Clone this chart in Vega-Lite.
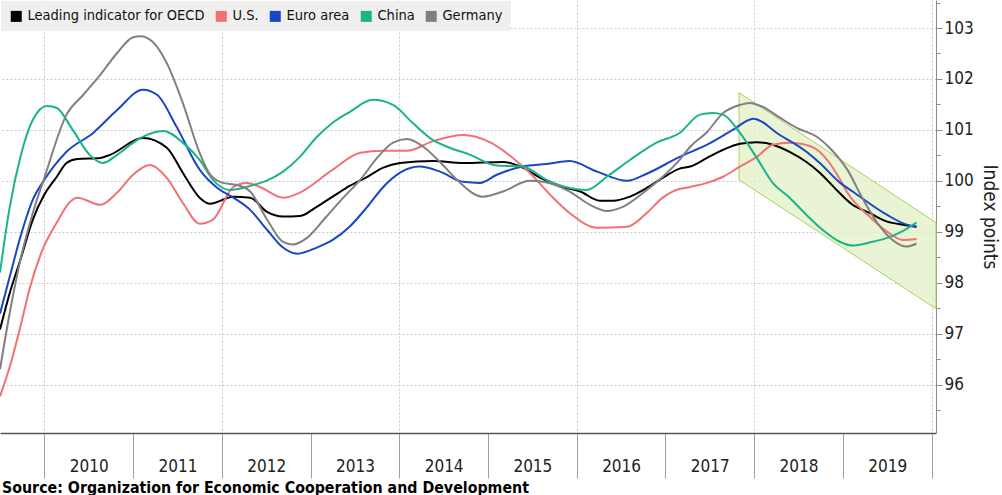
{
  "$schema": "https://vega.github.io/schema/vega-lite/v6.json",
  "width": 936,
  "height": 433,
  "autosize": {"type": "none"},
  "padding": {"left": 0, "top": 0, "right": 66, "bottom": 62},
  "background": "#ffffff",
  "config": {
    "view": {"stroke": null},
    "font": "DejaVu Sans Condensed, Liberation Sans, sans-serif",
    "axis": {"labelFont": "DejaVu Sans Condensed, Liberation Sans, sans-serif", "titleFont": "DejaVu Sans Condensed, Liberation Sans, sans-serif"},
    "legend": {"labelFont": "DejaVu Sans Condensed, Liberation Sans, sans-serif"}
  },
  "title": {
    "text": "Source: Organization for Economic Cooperation and Development",
    "orient": "bottom",
    "anchor": "start",
    "frame": "group",
    "fontSize": 15.8,
    "fontWeight": "bold",
    "font": "DejaVu Sans Condensed, Liberation Sans, sans-serif",
    "color": "#000000",
    "offset": 2,
    "dx": 2
  },
  "datasets": {
    "band": [
      {"t": 2017.83, "hi": 101.73, "lo": 100.02},
      {"t": 2020.05, "hi": 99.18, "lo": 97.49}
    ],
    "series": [
      {"s": "Leading indicator for OECD", "t": 2009.50, "v": 97.08},
      {"s": "Leading indicator for OECD", "t": 2009.61, "v": 97.80},
      {"s": "Leading indicator for OECD", "t": 2009.73, "v": 98.45},
      {"s": "Leading indicator for OECD", "t": 2009.87, "v": 99.24},
      {"s": "Leading indicator for OECD", "t": 2010.00, "v": 99.73},
      {"s": "Leading indicator for OECD", "t": 2010.14, "v": 100.08},
      {"s": "Leading indicator for OECD", "t": 2010.25, "v": 100.35},
      {"s": "Leading indicator for OECD", "t": 2010.37, "v": 100.43},
      {"s": "Leading indicator for OECD", "t": 2010.63, "v": 100.45},
      {"s": "Leading indicator for OECD", "t": 2010.74, "v": 100.51},
      {"s": "Leading indicator for OECD", "t": 2011.11, "v": 100.84},
      {"s": "Leading indicator for OECD", "t": 2011.38, "v": 100.65},
      {"s": "Leading indicator for OECD", "t": 2011.56, "v": 100.16},
      {"s": "Leading indicator for OECD", "t": 2011.75, "v": 99.67},
      {"s": "Leading indicator for OECD", "t": 2011.87, "v": 99.55},
      {"s": "Leading indicator for OECD", "t": 2012.13, "v": 99.69},
      {"s": "Leading indicator for OECD", "t": 2012.32, "v": 99.67},
      {"s": "Leading indicator for OECD", "t": 2012.51, "v": 99.39},
      {"s": "Leading indicator for OECD", "t": 2012.69, "v": 99.30},
      {"s": "Leading indicator for OECD", "t": 2012.88, "v": 99.31},
      {"s": "Leading indicator for OECD", "t": 2013.07, "v": 99.49},
      {"s": "Leading indicator for OECD", "t": 2013.25, "v": 99.69},
      {"s": "Leading indicator for OECD", "t": 2013.44, "v": 99.90},
      {"s": "Leading indicator for OECD", "t": 2013.64, "v": 100.08},
      {"s": "Leading indicator for OECD", "t": 2013.82, "v": 100.26},
      {"s": "Leading indicator for OECD", "t": 2014.01, "v": 100.35},
      {"s": "Leading indicator for OECD", "t": 2014.38, "v": 100.39},
      {"s": "Leading indicator for OECD", "t": 2014.72, "v": 100.35},
      {"s": "Leading indicator for OECD", "t": 2015.17, "v": 100.37},
      {"s": "Leading indicator for OECD", "t": 2015.39, "v": 100.26},
      {"s": "Leading indicator for OECD", "t": 2015.59, "v": 100.06},
      {"s": "Leading indicator for OECD", "t": 2015.84, "v": 99.88},
      {"s": "Leading indicator for OECD", "t": 2016.04, "v": 99.79},
      {"s": "Leading indicator for OECD", "t": 2016.26, "v": 99.61},
      {"s": "Leading indicator for OECD", "t": 2016.41, "v": 99.61},
      {"s": "Leading indicator for OECD", "t": 2016.60, "v": 99.69},
      {"s": "Leading indicator for OECD", "t": 2016.79, "v": 99.86},
      {"s": "Leading indicator for OECD", "t": 2016.97, "v": 100.06},
      {"s": "Leading indicator for OECD", "t": 2017.16, "v": 100.24},
      {"s": "Leading indicator for OECD", "t": 2017.28, "v": 100.28},
      {"s": "Leading indicator for OECD", "t": 2017.47, "v": 100.45},
      {"s": "Leading indicator for OECD", "t": 2017.65, "v": 100.61},
      {"s": "Leading indicator for OECD", "t": 2017.84, "v": 100.73},
      {"s": "Leading indicator for OECD", "t": 2018.03, "v": 100.76},
      {"s": "Leading indicator for OECD", "t": 2018.21, "v": 100.71},
      {"s": "Leading indicator for OECD", "t": 2018.40, "v": 100.57},
      {"s": "Leading indicator for OECD", "t": 2018.59, "v": 100.37},
      {"s": "Leading indicator for OECD", "t": 2018.74, "v": 100.16},
      {"s": "Leading indicator for OECD", "t": 2018.93, "v": 99.82},
      {"s": "Leading indicator for OECD", "t": 2019.11, "v": 99.53},
      {"s": "Leading indicator for OECD", "t": 2019.30, "v": 99.37},
      {"s": "Leading indicator for OECD", "t": 2019.50, "v": 99.20},
      {"s": "Leading indicator for OECD", "t": 2019.68, "v": 99.14},
      {"s": "Leading indicator for OECD", "t": 2019.83, "v": 99.10},

      {"s": "U.S.", "t": 2009.50, "v": 95.77},
      {"s": "U.S.", "t": 2009.61, "v": 96.35},
      {"s": "U.S.", "t": 2009.73, "v": 97.14},
      {"s": "U.S.", "t": 2009.84, "v": 97.92},
      {"s": "U.S.", "t": 2009.98, "v": 98.65},
      {"s": "U.S.", "t": 2010.14, "v": 99.18},
      {"s": "U.S.", "t": 2010.29, "v": 99.59},
      {"s": "U.S.", "t": 2010.37, "v": 99.67},
      {"s": "U.S.", "t": 2010.63, "v": 99.53},
      {"s": "U.S.", "t": 2010.82, "v": 99.77},
      {"s": "U.S.", "t": 2011.00, "v": 100.12},
      {"s": "U.S.", "t": 2011.19, "v": 100.31},
      {"s": "U.S.", "t": 2011.38, "v": 100.06},
      {"s": "U.S.", "t": 2011.56, "v": 99.57},
      {"s": "U.S.", "t": 2011.75, "v": 99.16},
      {"s": "U.S.", "t": 2011.90, "v": 99.24},
      {"s": "U.S.", "t": 2012.13, "v": 99.88},
      {"s": "U.S.", "t": 2012.28, "v": 99.96},
      {"s": "U.S.", "t": 2012.43, "v": 99.88},
      {"s": "U.S.", "t": 2012.69, "v": 99.67},
      {"s": "U.S.", "t": 2012.88, "v": 99.77},
      {"s": "U.S.", "t": 2013.25, "v": 100.22},
      {"s": "U.S.", "t": 2013.56, "v": 100.55},
      {"s": "U.S.", "t": 2013.82, "v": 100.59},
      {"s": "U.S.", "t": 2014.09, "v": 100.59},
      {"s": "U.S.", "t": 2014.38, "v": 100.78},
      {"s": "U.S.", "t": 2014.72, "v": 100.90},
      {"s": "U.S.", "t": 2015.02, "v": 100.76},
      {"s": "U.S.", "t": 2015.28, "v": 100.45},
      {"s": "U.S.", "t": 2015.47, "v": 100.16},
      {"s": "U.S.", "t": 2015.70, "v": 99.73},
      {"s": "U.S.", "t": 2015.92, "v": 99.37},
      {"s": "U.S.", "t": 2016.23, "v": 99.08},
      {"s": "U.S.", "t": 2016.57, "v": 99.10},
      {"s": "U.S.", "t": 2016.79, "v": 99.37},
      {"s": "U.S.", "t": 2016.97, "v": 99.67},
      {"s": "U.S.", "t": 2017.08, "v": 99.79},
      {"s": "U.S.", "t": 2017.28, "v": 99.88},
      {"s": "U.S.", "t": 2017.47, "v": 99.96},
      {"s": "U.S.", "t": 2017.65, "v": 100.08},
      {"s": "U.S.", "t": 2017.84, "v": 100.28},
      {"s": "U.S.", "t": 2018.03, "v": 100.47},
      {"s": "U.S.", "t": 2018.21, "v": 100.71},
      {"s": "U.S.", "t": 2018.40, "v": 100.75},
      {"s": "U.S.", "t": 2018.52, "v": 100.73},
      {"s": "U.S.", "t": 2018.71, "v": 100.61},
      {"s": "U.S.", "t": 2018.85, "v": 100.35},
      {"s": "U.S.", "t": 2018.97, "v": 100.02},
      {"s": "U.S.", "t": 2019.05, "v": 99.77},
      {"s": "U.S.", "t": 2019.30, "v": 99.30},
      {"s": "U.S.", "t": 2019.50, "v": 99.00},
      {"s": "U.S.", "t": 2019.68, "v": 98.84},
      {"s": "U.S.", "t": 2019.83, "v": 98.86},

      {"s": "Euro area", "t": 2009.50, "v": 97.39},
      {"s": "Euro area", "t": 2009.61, "v": 98.12},
      {"s": "Euro area", "t": 2009.73, "v": 98.90},
      {"s": "Euro area", "t": 2009.87, "v": 99.63},
      {"s": "Euro area", "t": 2010.00, "v": 100.02},
      {"s": "Euro area", "t": 2010.25, "v": 100.57},
      {"s": "Euro area", "t": 2010.55, "v": 100.94},
      {"s": "Euro area", "t": 2010.82, "v": 101.39},
      {"s": "Euro area", "t": 2011.11, "v": 101.79},
      {"s": "Euro area", "t": 2011.27, "v": 101.69},
      {"s": "Euro area", "t": 2011.49, "v": 101.06},
      {"s": "Euro area", "t": 2011.75, "v": 100.22},
      {"s": "Euro area", "t": 2011.95, "v": 99.86},
      {"s": "Euro area", "t": 2012.13, "v": 99.67},
      {"s": "Euro area", "t": 2012.32, "v": 99.43},
      {"s": "Euro area", "t": 2012.51, "v": 99.04},
      {"s": "Euro area", "t": 2012.69, "v": 98.69},
      {"s": "Euro area", "t": 2012.85, "v": 98.57},
      {"s": "Euro area", "t": 2013.07, "v": 98.69},
      {"s": "Euro area", "t": 2013.25, "v": 98.84},
      {"s": "Euro area", "t": 2013.44, "v": 99.10},
      {"s": "Euro area", "t": 2013.64, "v": 99.49},
      {"s": "Euro area", "t": 2013.82, "v": 99.88},
      {"s": "Euro area", "t": 2014.01, "v": 100.16},
      {"s": "Euro area", "t": 2014.23, "v": 100.28},
      {"s": "Euro area", "t": 2014.46, "v": 100.18},
      {"s": "Euro area", "t": 2014.72, "v": 99.98},
      {"s": "Euro area", "t": 2014.91, "v": 99.96},
      {"s": "Euro area", "t": 2015.10, "v": 100.12},
      {"s": "Euro area", "t": 2015.39, "v": 100.28},
      {"s": "Euro area", "t": 2015.66, "v": 100.33},
      {"s": "Euro area", "t": 2015.92, "v": 100.39},
      {"s": "Euro area", "t": 2016.23, "v": 100.18},
      {"s": "Euro area", "t": 2016.57, "v": 100.00},
      {"s": "Euro area", "t": 2016.79, "v": 100.14},
      {"s": "Euro area", "t": 2017.16, "v": 100.47},
      {"s": "Euro area", "t": 2017.47, "v": 100.71},
      {"s": "Euro area", "t": 2017.76, "v": 101.00},
      {"s": "Euro area", "t": 2017.99, "v": 101.22},
      {"s": "Euro area", "t": 2018.29, "v": 100.90},
      {"s": "Euro area", "t": 2018.59, "v": 100.57},
      {"s": "Euro area", "t": 2018.74, "v": 100.35},
      {"s": "Euro area", "t": 2018.97, "v": 99.96},
      {"s": "Euro area", "t": 2019.11, "v": 99.79},
      {"s": "Euro area", "t": 2019.50, "v": 99.33},
      {"s": "Euro area", "t": 2019.72, "v": 99.14},
      {"s": "Euro area", "t": 2019.83, "v": 99.10},

      {"s": "China", "t": 2009.50, "v": 98.20},
      {"s": "China", "t": 2009.61, "v": 99.49},
      {"s": "China", "t": 2009.73, "v": 100.47},
      {"s": "China", "t": 2009.87, "v": 101.20},
      {"s": "China", "t": 2010.03, "v": 101.47},
      {"s": "China", "t": 2010.14, "v": 101.43},
      {"s": "China", "t": 2010.32, "v": 101.00},
      {"s": "China", "t": 2010.51, "v": 100.51},
      {"s": "China", "t": 2010.66, "v": 100.35},
      {"s": "China", "t": 2010.82, "v": 100.51},
      {"s": "China", "t": 2011.08, "v": 100.84},
      {"s": "China", "t": 2011.34, "v": 100.98},
      {"s": "China", "t": 2011.56, "v": 100.75},
      {"s": "China", "t": 2011.75, "v": 100.41},
      {"s": "China", "t": 2011.90, "v": 100.02},
      {"s": "China", "t": 2012.09, "v": 99.82},
      {"s": "China", "t": 2012.32, "v": 99.90},
      {"s": "China", "t": 2012.69, "v": 100.18},
      {"s": "China", "t": 2012.88, "v": 100.47},
      {"s": "China", "t": 2013.07, "v": 100.86},
      {"s": "China", "t": 2013.25, "v": 101.14},
      {"s": "China", "t": 2013.44, "v": 101.35},
      {"s": "China", "t": 2013.70, "v": 101.59},
      {"s": "China", "t": 2013.93, "v": 101.49},
      {"s": "China", "t": 2014.15, "v": 101.14},
      {"s": "China", "t": 2014.38, "v": 100.80},
      {"s": "China", "t": 2014.54, "v": 100.67},
      {"s": "China", "t": 2014.80, "v": 100.51},
      {"s": "China", "t": 2015.10, "v": 100.30},
      {"s": "China", "t": 2015.39, "v": 100.28},
      {"s": "China", "t": 2015.66, "v": 100.02},
      {"s": "China", "t": 2015.92, "v": 99.86},
      {"s": "China", "t": 2016.11, "v": 99.82},
      {"s": "China", "t": 2016.34, "v": 100.08},
      {"s": "China", "t": 2016.60, "v": 100.41},
      {"s": "China", "t": 2016.90, "v": 100.75},
      {"s": "China", "t": 2017.16, "v": 100.94},
      {"s": "China", "t": 2017.39, "v": 101.30},
      {"s": "China", "t": 2017.53, "v": 101.33},
      {"s": "China", "t": 2017.65, "v": 101.30},
      {"s": "China", "t": 2017.84, "v": 100.94},
      {"s": "China", "t": 2018.03, "v": 100.45},
      {"s": "China", "t": 2018.21, "v": 99.96},
      {"s": "China", "t": 2018.40, "v": 99.67},
      {"s": "China", "t": 2018.59, "v": 99.33},
      {"s": "China", "t": 2018.77, "v": 99.04},
      {"s": "China", "t": 2018.97, "v": 98.80},
      {"s": "China", "t": 2019.11, "v": 98.73},
      {"s": "China", "t": 2019.30, "v": 98.79},
      {"s": "China", "t": 2019.50, "v": 98.88},
      {"s": "China", "t": 2019.68, "v": 99.02},
      {"s": "China", "t": 2019.83, "v": 99.18},

      {"s": "Germany", "t": 2009.50, "v": 96.30},
      {"s": "Germany", "t": 2009.61, "v": 97.41},
      {"s": "Germany", "t": 2009.73, "v": 98.45},
      {"s": "Germany", "t": 2009.87, "v": 99.37},
      {"s": "Germany", "t": 2010.00, "v": 100.06},
      {"s": "Germany", "t": 2010.25, "v": 101.30},
      {"s": "Germany", "t": 2010.44, "v": 101.69},
      {"s": "Germany", "t": 2010.63, "v": 102.08},
      {"s": "Germany", "t": 2010.82, "v": 102.51},
      {"s": "Germany", "t": 2011.00, "v": 102.82},
      {"s": "Germany", "t": 2011.08, "v": 102.84},
      {"s": "Germany", "t": 2011.22, "v": 102.73},
      {"s": "Germany", "t": 2011.38, "v": 102.31},
      {"s": "Germany", "t": 2011.56, "v": 101.53},
      {"s": "Germany", "t": 2011.75, "v": 100.55},
      {"s": "Germany", "t": 2011.87, "v": 100.12},
      {"s": "Germany", "t": 2012.01, "v": 99.96},
      {"s": "Germany", "t": 2012.17, "v": 99.92},
      {"s": "Germany", "t": 2012.32, "v": 99.79},
      {"s": "Germany", "t": 2012.51, "v": 99.24},
      {"s": "Germany", "t": 2012.69, "v": 98.80},
      {"s": "Germany", "t": 2012.80, "v": 98.75},
      {"s": "Germany", "t": 2012.96, "v": 98.88},
      {"s": "Germany", "t": 2013.18, "v": 99.30},
      {"s": "Germany", "t": 2013.37, "v": 99.67},
      {"s": "Germany", "t": 2013.56, "v": 100.02},
      {"s": "Germany", "t": 2013.75, "v": 100.45},
      {"s": "Germany", "t": 2013.93, "v": 100.75},
      {"s": "Germany", "t": 2014.09, "v": 100.82},
      {"s": "Germany", "t": 2014.27, "v": 100.67},
      {"s": "Germany", "t": 2014.46, "v": 100.37},
      {"s": "Germany", "t": 2014.65, "v": 100.02},
      {"s": "Germany", "t": 2014.94, "v": 99.69},
      {"s": "Germany", "t": 2015.17, "v": 99.79},
      {"s": "Germany", "t": 2015.47, "v": 100.00},
      {"s": "Germany", "t": 2015.62, "v": 99.98},
      {"s": "Germany", "t": 2015.92, "v": 99.79},
      {"s": "Germany", "t": 2016.15, "v": 99.53},
      {"s": "Germany", "t": 2016.34, "v": 99.41},
      {"s": "Germany", "t": 2016.52, "v": 99.49},
      {"s": "Germany", "t": 2016.79, "v": 99.82},
      {"s": "Germany", "t": 2016.97, "v": 100.08},
      {"s": "Germany", "t": 2017.16, "v": 100.41},
      {"s": "Germany", "t": 2017.28, "v": 100.67},
      {"s": "Germany", "t": 2017.47, "v": 100.96},
      {"s": "Germany", "t": 2017.65, "v": 101.33},
      {"s": "Germany", "t": 2017.84, "v": 101.49},
      {"s": "Germany", "t": 2017.95, "v": 101.53},
      {"s": "Germany", "t": 2018.10, "v": 101.45},
      {"s": "Germany", "t": 2018.29, "v": 101.24},
      {"s": "Germany", "t": 2018.48, "v": 101.04},
      {"s": "Germany", "t": 2018.71, "v": 100.86},
      {"s": "Germany", "t": 2018.85, "v": 100.65},
      {"s": "Germany", "t": 2019.05, "v": 100.22},
      {"s": "Germany", "t": 2019.23, "v": 99.63},
      {"s": "Germany", "t": 2019.42, "v": 99.10},
      {"s": "Germany", "t": 2019.56, "v": 98.84},
      {"s": "Germany", "t": 2019.72, "v": 98.71},
      {"s": "Germany", "t": 2019.83, "v": 98.77}
    ]
  },
  "resolve": {"axis": {"y": "independent", "x": "independent"}},
  "layer": [
    {
      "data": {"name": "band"},
      "mark": {"type": "area", "fill": "#e2f1c8", "fillOpacity": 0.8, "stroke": "#a9d25c", "strokeWidth": 1},
      "encoding": {
        "x": {"field": "t", "type": "quantitative",
          "scale": {"domain": [2009.5, 2020.05], "nice": false, "zero": false},
          "axis": {"orient": "bottom", "values": [2010, 2011, 2012, 2013, 2014, 2015, 2016, 2017, 2018, 2019, 2020],
            "labels": false, "ticks": false, "domain": false, "title": null,
            "grid": true, "gridDash": [2, 2], "gridColor": "#c8c8c8",
            "gridOpacity": {"condition": {"test": "datum.value % 2 === 0", "value": 1}, "value": 0}}},
        "y": {"field": "hi", "type": "quantitative",
          "scale": {"domain": [95.05, 103.55], "nice": false, "zero": false},
          "axis": {"orient": "right", "values": [95.5, 96.5, 97.5, 98.5, 99.5, 100.5, 101.5, 102.5, 103.5],
            "labels": false, "grid": false, "domain": false, "title": null,
            "tickSize": 4, "tickColor": "#8c8c8c"}},
        "y2": {"field": "lo"}
      }
    },
    {
      "data": {"name": "series"},
      "mark": {"type": "line", "interpolate": "monotone", "strokeWidth": 2},
      "encoding": {
        "x": {"field": "t", "type": "quantitative",
          "axis": {"orient": "bottom", "values": [2010, 2011, 2012, 2013, 2014, 2015, 2016, 2017, 2018, 2019, 2020],
            "format": "d", "labelExpr": "datum.value < 2020 ? datum.label : ''",
            "labelOffset": 44.4, "labelPadding": -20, "labelFontSize": 17, "labelColor": "#222222",
            "labelFlush": false, "labelOverlap": false,
            "tickSize": 45, "tickColor": "#a0a0a0", "domainColor": "#555555", "domainWidth": 1.5,
            "grid": false, "title": null}},
        "y": {"field": "v", "type": "quantitative",
          "axis": {"orient": "right", "values": [96, 97, 98, 99, 100, 101, 102, 103],
            "format": "d", "labelFontSize": 17, "labelColor": "#222222", "labelPadding": 2,
            "tickSize": 6, "tickColor": "#8c8c8c", "domainColor": "#8c8c8c",
            "grid": true, "gridDash": [2, 2], "gridColor": "#c8c8c8",
            "title": "Index points", "titleFontSize": 19, "titleFontWeight": "normal", "titleColor": "#222222", "titlePadding": 6}},
        "color": {"field": "s", "type": "nominal",
          "scale": {"domain": ["Leading indicator for OECD", "U.S.", "Euro area", "China", "Germany"],
            "range": ["#000000", "#f07272", "#1a47c2", "#1bb38b", "#808080"]},
          "legend": {"orient": "top-left", "direction": "horizontal", "title": null,
            "fillColor": "#efefef", "padding": 8, "offset": 1,
            "symbolType": "square", "symbolSize": 121, "symbolStrokeWidth": 0, "symbolOpacity": 1,
            "labelFontSize": 14.5, "labelColor": "#111111", "labelOffset": 4, "columnPadding": 9,
            "labelLimit": 400,
            "encode": {"symbols": {"update": {"fill": {"scale": "color", "field": "value"}, "strokeWidth": {"value": 0}}}}}}
      }
    }
  ]
}
